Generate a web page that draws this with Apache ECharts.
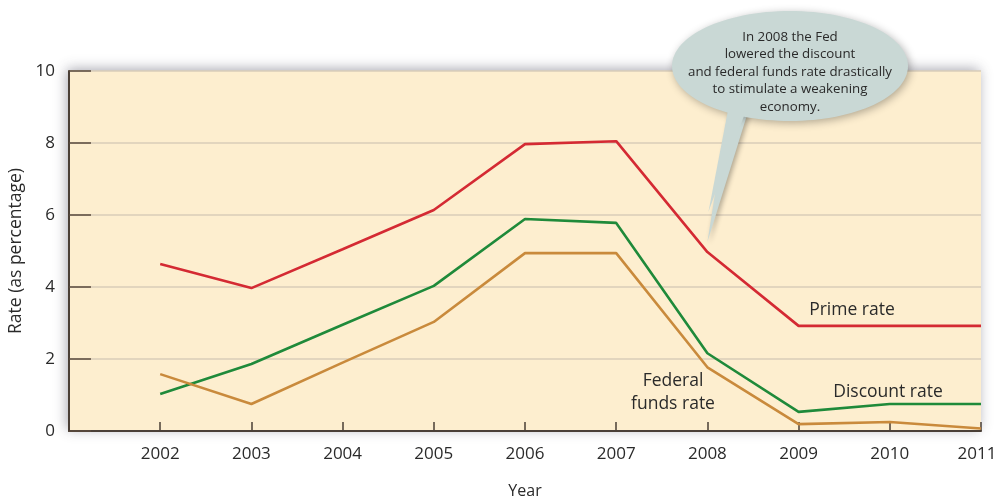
<!DOCTYPE html>
<html><head><meta charset="utf-8">
<script src="https://cdn.jsdelivr.net/npm/echarts@6/dist/echarts.min.js"></script>
<style>html,body{margin:0;padding:0;background:#fff;overflow:hidden}#c{width:100vw;height:100vh}</style>
</head><body><div id="c"></div>
<script>
const years = [2002, 2003, 2004, 2005, 2006, 2007, 2008, 2009, 2010, 2011];
const primeRate = [4.64, 3.97, 5.05, 6.14, 7.97, 8.05, 4.97, 2.92, 2.92, 2.92];
const discountRate = [1.03, 1.86, 2.95, 4.03, 5.89, 5.78, 2.16, 0.53, 0.75, 0.75];
const fedFundsRate = [1.58, 0.75, 1.9, 3.03, 4.94, 4.94, 1.77, 0.19, 0.25, 0.07];
const yTicks = [0, 2, 4, 6, 8, 10];
const calloutLines = ['In 2008 the Fed', 'lowered the discount', 'and federal funds rate drastically', 'to stimulate a weakening', 'economy.'];

const FONT = '"Open Sans", "Noto Sans", sans-serif';
const el = document.getElementById('c');
const chart = echarts.init(el, null, {renderer: 'canvas'});
const pair = arr => years.map((y, i) => [y, arr[i]]);
const lineSeries = (name, arr, color) => ({
  name, type: 'line', data: pair(arr), symbol: 'none',
  lineStyle: {color, width: 2.6}, z: 3
});
const lastYear = years[years.length - 1];

chart.setOption({
  animation: false,
  grid: {left: 69, right: 14, top: 71, bottom: 68, show: true,
    outerBoundsMode: 'none', containLabel: false,
    backgroundColor: '#fdeecf', borderWidth: 0,
    shadowColor: 'rgba(60,60,80,0.45)', shadowBlur: 12, shadowOffsetX: -2, shadowOffsetY: -2},
  xAxis: {
    type: 'value', min: 2001, max: 2011, interval: 1,
    name: 'Year', nameLocation: 'middle', nameGap: 52,
    nameTextStyle: {fontFamily: FONT, fontSize: 16, color: '#2a2a2a'},
    axisLine: {show: true, lineStyle: {color: '#4a3f36', width: 2}},
    axisTick: {show: true, inside: true, length: 9, lineStyle: {color: '#4a3f36', width: 1.5}},
    axisLabel: {fontFamily: FONT, fontSize: 17, color: '#2a2a2a', margin: 15,
      formatter: v => v === lastYear ? '{r|' + v + '}' : (years.includes(v) ? String(v) : ''),
      rich: {r: {fontFamily: FONT, fontSize: 17, color: '#2a2a2a', padding: [0, 8, 0, 0]}}},
    splitLine: {show: false}
  },
  yAxis: {
    type: 'value', min: yTicks[0], max: yTicks[yTicks.length - 1], interval: 2,
    name: 'Rate (as percentage)', nameLocation: 'middle', nameGap: 38,
    nameTextStyle: {fontFamily: FONT, fontSize: 17.5, color: '#2a2a2a'},
    axisLine: {show: true, lineStyle: {color: '#4a3f36', width: 2}},
    axisTick: {show: true, inside: true, length: 22, lineStyle: {color: '#5a4a3c', width: 1.5}},
    axisLabel: {fontFamily: FONT, fontSize: 17, color: '#2a2a2a', margin: 14},
    splitLine: {show: true, lineStyle: {color: '#d8cdb8', width: 1.5}}
  },
  series: [
    lineSeries('Prime rate', primeRate, '#d42a33'),
    lineSeries('Discount rate', discountRate, '#1f8a3a'),
    lineSeries('Federal funds rate', fedFundsRate, '#c98a3c')
  ]
});

// annotations
const tip = chart.convertToPixel({gridIndex: 0}, [2008, 5.25]);
const txt = (text, x, y) => ({type: 'text', x, y, z: 10,
  style: {text, font: '17.5px ' + FONT, fill: '#2a2a2a', align: 'center', verticalAlign: 'middle', lineHeight: 23}});
chart.setOption({
  graphic: [
    {type: 'polygon', z: 8, shape: {points: [[728, 112], [748, 112], [tip[0], tip[1]]]},
      style: {fill: '#c9d8d5', shadowColor: 'rgba(0,0,0,0.3)', shadowBlur: 5, shadowOffsetX: 2, shadowOffsetY: 2}},
    {type: 'ellipse', z: 9, shape: {cx: 790, cy: 66, rx: 118, ry: 55},
      style: {fill: '#c9d8d5', shadowColor: 'rgba(0,0,0,0.3)', shadowBlur: 8, shadowOffsetX: 2, shadowOffsetY: 2}},
    {type: 'polygon', z: 9, shape: {points: [[729, 105], [748, 105], [tip[0] + 1, tip[1] - 30]]},
      style: {fill: '#c9d8d5'}},
    {type: 'text', x: 790, y: 72, z: 11,
      style: {text: calloutLines.join('\n'), font: '13.3px ' + FONT, fill: '#2a2a2a',
        align: 'center', verticalAlign: 'middle', lineHeight: 17.5}},
    txt('Prime rate', 852, 310),
    txt('Discount rate', 888, 392),
    txt('Federal\nfunds rate', 673, 393)
  ]
});
</script></body></html>
